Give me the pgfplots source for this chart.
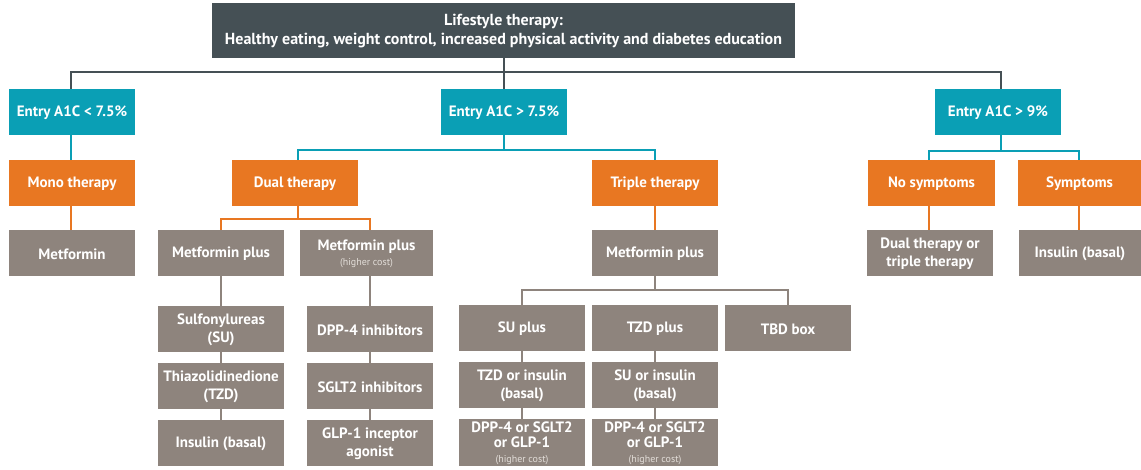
\documentclass[border=0pt]{standalone}
\usepackage{pgfplots}
\pgfplotsset{compat=1.18}
\usepackage{fontspec}
\setmainfont{PT Sans}
\definecolor{topc}{HTML}{455055}
\definecolor{tealc}{HTML}{0A9FB5}
\definecolor{orc}{HTML}{E87722}
\definecolor{grc}{HTML}{8E847D}
\definecolor{sub}{HTML}{E2DDD8}
\tikzset{boxtext/.style={text=white, align=center, font=\fontsize{15}{18}\selectfont\bfseries, inner sep=0pt, yshift=-1pt}}
\newcommand{\bx}[6]{%
  \addplot[draw=none,fill=#5] coordinates {(#1,#2) (#3,#2) (#3,#4) (#1,#4)} --cycle;
  \path (axis cs:#1,#2) -- (axis cs:#3,#4) node[midway,boxtext] {#6};}
\newcommand{\hc}{\\[-3pt]{\fontsize{10}{10}\selectfont\mdseries\color{sub}(higher cost)}}
\begin{document}
\begin{tikzpicture}
\begin{axis}[
  width=1141pt, height=469pt, scale only axis,
  xmin=0, xmax=1141, ymin=0, ymax=469, y dir=reverse,
  enlargelimits=false, hide axis, clip=false,
  every axis plot/.append style={line width=2pt, mark=none},
]
\addplot[draw=none] coordinates {(0,0) (1141,469)};
% connecting lines
\addplot[topc] coordinates {(504,57) (504,72)};
\addplot[topc] coordinates {(71,89) (71,72) (1001,72) (1001,89)};
\addplot[topc] coordinates {(504,72) (504,89)};
\addplot[tealc] coordinates {(71,135) (71,160)};
\addplot[tealc] coordinates {(504,135) (504,150)};
\addplot[tealc] coordinates {(298,160) (298,150) (655,150) (655,160)};
\addplot[tealc] coordinates {(1001,135) (1001,151)};
\addplot[tealc] coordinates {(929,160) (929,151) (1079,151) (1079,160)};
\addplot[orc] coordinates {(71,206) (71,230)};
\addplot[orc] coordinates {(298,206) (298,219)};
\addplot[orc] coordinates {(221,230) (221,219) (370,219) (370,230)};
\addplot[orc] coordinates {(655,206) (655,230)};
\addplot[orc] coordinates {(929,206) (929,230)};
\addplot[orc] coordinates {(1079,206) (1079,230)};
\addplot[grc] coordinates {(221,276) (221,420)};
\addplot[grc] coordinates {(370,276) (370,420)};
\addplot[grc] coordinates {(655,276) (655,290)};
\addplot[grc] coordinates {(522,306) (522,290) (788,290) (788,306)};
\addplot[grc] coordinates {(522,351) (522,419)};
\addplot[grc] coordinates {(655,306) (655,419)};
% boxes
\addplot[draw=none,fill=topc] coordinates {(212,3) (795,3) (795,58) (212,58)} --cycle;
\path (axis cs:212,3) -- (axis cs:795,58) node[midway,boxtext,font=\fontsize{16}{19}\selectfont\bfseries] {Lifestyle therapy:\\Healthy eating, weight control, increased physical activity and diabetes education};
\bx{9}{89}{135}{135}{tealc}{Entry A1C < 7.5\%}
\bx{441}{89}{567}{135}{tealc}{Entry A1C > 7.5\%}
\bx{935}{89}{1061}{135}{tealc}{Entry A1C > 9\%}
\bx{9}{160}{135}{206}{orc}{Mono therapy}
\bx{232}{160}{358}{206}{orc}{Dual therapy}
\bx{592}{160}{718}{206}{orc}{Triple therapy}
\bx{868}{160}{995}{206}{orc}{No symptoms}
\bx{1018}{160}{1141}{206}{orc}{Symptoms}
\bx{9}{230}{135}{276}{grc}{Metformin}
\bx{158}{230}{284}{276}{grc}{Metformin plus}
\bx{300}{230}{433}{276}{grc}{Metformin plus\hc}
\bx{592}{230}{718}{276}{grc}{Metformin plus}
\bx{867}{230}{993}{276}{grc}{Dual therapy or\\triple therapy}
\bx{1019}{230}{1141}{276}{grc}{Insulin (basal)}
\bx{158}{306}{284}{352}{grc}{Sulfonylureas\\(SU)}
\bx{158}{363}{284}{409}{grc}{Thiazolidinedione\\(TZD)}
\bx{158}{420}{284}{466}{grc}{Insulin (basal)}
\bx{307}{306}{433}{352}{grc}{DPP-4 inhibitors}
\bx{307}{363}{433}{409}{grc}{SGLT2 inhibitors}
\bx{307}{420}{433}{466}{grc}{GLP-1 inceptor\\agonist}
\bx{459}{305}{585}{351}{grc}{SU plus}
\bx{592}{305}{718}{351}{grc}{TZD plus}
\bx{725}{305}{851}{351}{grc}{TBD box}
\bx{459}{362}{585}{408}{grc}{TZD or insulin\\(basal)}
\bx{592}{362}{718}{408}{grc}{SU or insulin\\(basal)}
\bx{459}{419}{585}{466}{grc}{DPP-4 or SGLT2\\[-3pt]or GLP-1\hc}
\bx{592}{419}{718}{466}{grc}{DPP-4 or SGLT2\\[-3pt]or GLP-1\hc}
\end{axis}
\end{tikzpicture}
\end{document}
